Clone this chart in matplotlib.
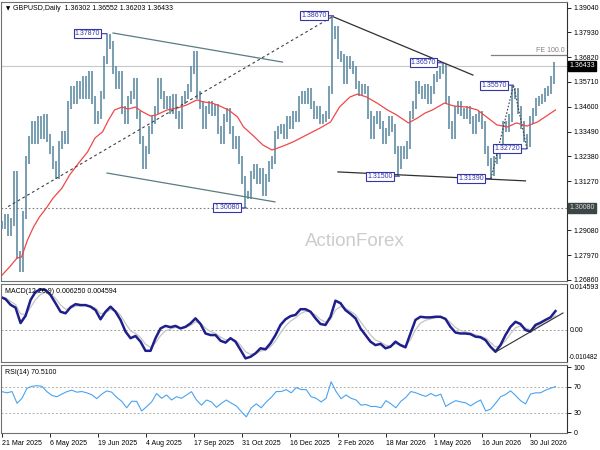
import numpy as np
import pandas as pd
import matplotlib
matplotlib.use('Agg')
import matplotlib.pyplot as plt
import matplotlib.transforms as mtrans

plt.rcParams['font.family'] = ['Liberation Sans', 'DejaVu Sans']
plt.rcParams['font.size'] = 5

# closes, one every 2 trading days from 21 Mar 2025
close = [
    1.2932, 1.2963, 1.2900, 1.2945, 1.3155, 1.2798, 1.2740, 1.2976, 1.3222, 1.3312,
    1.3379, 1.3312, 1.3401, 1.3334, 1.3410, 1.3321, 1.3267, 1.3200, 1.3155, 1.3289,
    1.3334, 1.3312, 1.3468, 1.3535, 1.3491, 1.3558, 1.3513, 1.3580, 1.3513, 1.3602,
    1.3491, 1.3401, 1.3424, 1.3513, 1.3669, 1.3768, 1.3736, 1.3625, 1.3558, 1.3602,
    1.3446, 1.3401, 1.3491, 1.3513, 1.3571, 1.3424, 1.3312, 1.3200, 1.3267, 1.3356,
    1.3401, 1.3446, 1.3571, 1.3513, 1.3468, 1.3491, 1.3446, 1.3499, 1.3424, 1.3379,
    1.3491, 1.3513, 1.3544, 1.3625, 1.3692, 1.3513, 1.3468, 1.3379, 1.3446, 1.3468,
    1.3437, 1.3455, 1.3356, 1.3312, 1.3410, 1.3437, 1.3356, 1.3289, 1.3312, 1.3222,
    1.3133, 1.3066, 1.3066, 1.3155, 1.3187, 1.3133, 1.3169, 1.3079, 1.3142, 1.3200,
    1.3222, 1.3334, 1.3356, 1.3365, 1.3334, 1.3401, 1.3379, 1.3424, 1.3410, 1.3491,
    1.3513, 1.3491, 1.3526, 1.3468, 1.3424, 1.3446, 1.3401, 1.3410, 1.3424, 1.3535,
    1.3781, 1.3803, 1.3692, 1.3678, 1.3580, 1.3669, 1.3647, 1.3625, 1.3558, 1.3526,
    1.3544, 1.3535, 1.3424, 1.3334, 1.3401, 1.3424, 1.3379, 1.3312, 1.3347, 1.3401,
    1.3365, 1.3267, 1.3200, 1.3267, 1.3245, 1.3289, 1.3424, 1.3468, 1.3558, 1.3535,
    1.3513, 1.3544, 1.3491, 1.3535, 1.3589, 1.3602, 1.3625, 1.3634, 1.3491, 1.3379,
    1.3334, 1.3446, 1.3468, 1.3437, 1.3424, 1.3446, 1.3401, 1.3356, 1.3410, 1.3424,
    1.3379, 1.3267, 1.3213, 1.3169, 1.3222, 1.3245, 1.3276, 1.3379, 1.3365, 1.3410,
    1.3513, 1.3526, 1.3446, 1.3379, 1.3321, 1.3298, 1.3401, 1.3437, 1.3482, 1.3491,
    1.3499, 1.3526, 1.3535, 1.3580, 1.3643,
]

ma_day = [0, 5, 10, 13, 17, 21, 25, 30, 34, 40, 45, 51, 57, 62, 67, 71, 75, 80, 84, 89,
          93, 99, 103, 110, 117, 123, 130, 134, 140, 145, 151, 157, 161, 167, 174, 180,
          184, 189, 194, 203, 212, 219, 225, 232, 237, 243, 250, 257, 263, 271, 277, 282,
          287, 295, 301, 310, 317, 323, 330, 337, 343, 350, 357, 363, 369]
ma_val = [1.2708, 1.2744, 1.2784, 1.2789, 1.2865, 1.2923, 1.2968, 1.3012, 1.3052, 1.3097,
          1.3155, 1.3208, 1.3258, 1.3321, 1.3348, 1.3401, 1.3446, 1.3459, 1.3450, 1.3459,
          1.3440, 1.3419, 1.3424, 1.3446, 1.3455, 1.3468, 1.3491, 1.3482, 1.3477, 1.3464,
          1.3446, 1.3415, 1.3370, 1.3334, 1.3289, 1.3267, 1.3276, 1.3289, 1.3303, 1.3334,
          1.3365, 1.3392, 1.3459, 1.3504, 1.3517, 1.3504, 1.3477, 1.3446, 1.3424, 1.3388,
          1.3410, 1.3432, 1.3446, 1.3477, 1.3464, 1.3459, 1.3446, 1.3415, 1.3379, 1.3370,
          1.3388, 1.3374, 1.3392, 1.3419, 1.3446]

macd = [
    0.0105, 0.0098, 0.0080, 0.0071, 0.0022, 0.0045, 0.0095, 0.0121, 0.0129, 0.0127,
    0.0111, 0.0085, 0.0058, 0.0053, 0.0072, 0.0082, 0.0079, 0.0079, 0.0074, 0.0063,
    0.0034, 0.0058, 0.0074, 0.0058, 0.0032, -0.0005, -0.0026, -0.0019, -0.0037, -0.0066,
    -0.0066, -0.0026, 0.0005, 0.0013, 0.0009, 0.0013, 0.0005, 0.0010, 0.0021, 0.0037,
    0.0019, -0.0011, -0.0016, -0.0016, -0.0034, -0.0040, -0.0026, -0.0037, -0.0063, -0.0090,
    -0.0085, -0.0074, -0.0058, -0.0061, -0.0042, -0.0016, 0.0016, 0.0034, 0.0044, 0.0048,
    0.0066, 0.0066, 0.0058, 0.0037, 0.0019, 0.0016, 0.0042, 0.0093, 0.0085, 0.0063,
    0.0051, 0.0037, 0.0005, -0.0016, -0.0037, -0.0048, -0.0044, -0.0058, -0.0053, -0.0037,
    -0.0048, -0.0055, -0.0011, 0.0032, 0.0042, 0.0040, 0.0040, 0.0042, 0.0042, 0.0035,
    0.0010, -0.0008, -0.0011, -0.0011, -0.0013, -0.0021, -0.0023, -0.0032, -0.0053, -0.0069,
    -0.0048, -0.0016, 0.0010, 0.0026, 0.0019, 0.0000, -0.0005, 0.0016, 0.0023, 0.0032,
    0.0040, 0.0060,
]

rsi = [
    62.8, 61, 63, 45, 52.6, 68, 71, 72, 71, 62.8,
    57, 55, 59, 62.8, 65, 62, 63, 61, 58, 52,
    59, 64, 62, 54, 48, 38, 48, 48, 33, 39.7,
    47, 60, 52.6, 57.7, 50, 55, 52.6, 57.7, 62.8, 50,
    42, 50, 47, 38.7, 44.9, 50, 45, 40.8, 32, 24,
    38, 44, 38, 47, 54, 63, 63, 66, 61, 69,
    66, 66, 55, 52.6, 47, 52.6, 78, 63, 52, 57.7,
    52.6, 50, 42, 43, 40, 40, 38, 49, 44, 38,
    48, 54, 63, 61, 58, 55.5, 60, 56, 59, 40,
    45, 49, 47, 45.5, 41, 46, 50, 33, 36, 45,
    55, 58.5, 64, 57, 49, 44, 59, 61, 61, 65,
    68, 70.5,
]

# labelled swing points
piv_day = [70, 163, 221, 265, 294, 326, 341, 350]
piv_val = [1.37870, 1.30080, 1.38670, 1.31500, 1.36570, 1.31390, 1.35570, 1.32720]

date_labels = ['21 Mar 2025', '6 May 2025', '19 Jun 2025', '4 Aug 2025', '17 Sep 2025',
               '31 Oct 2025', '16 Dec 2025', '2 Feb 2026', '18 Mar 2026', '1 May 2026',
               '16 Jun 2026', '30 Jul 2026']
price_ticks = [1.39040, 1.37930, 1.36820, 1.35710, 1.34600, 1.33490, 1.32380,
               1.31270, 1.29080, 1.27970, 1.26860]

last_price = 1.36433
level = 1.30080
fe_level = 1.36900

days = np.arange(len(close)) * 2
c = np.array(close)
prev = np.r_[c[0], c[:-1]]
pad = 0.0018
hi = np.maximum(c, prev) + pad
lo = np.minimum(c, prev) - pad
for d, v in zip(piv_day, piv_val):
    k = int(np.argmin(np.abs(days - d)))
    hi[k] = max(hi[k], v)
    lo[k] = min(lo[k], v)

macd_day = np.linspace(-1, 369, len(macd))
signal = pd.Series(macd).ewm(alpha=0.5, adjust=False).mean()
rsi_day = np.linspace(0, 369, len(rsi))

W, H = 600, 450
fig = plt.figure(figsize=(6, 4.5), dpi=100)
fig.patch.set_facecolor('white')


def panel(top, bot):
    return fig.add_axes([1 / W, 1 - bot / H, 566 / W, (bot - top) / H])


axp = panel(2, 281)
axm = panel(284, 362)
axr = panel(365, 433)

xlim = (-0.7, 376.7)
for ax in (axp, axm, axr):
    ax.set_xlim(xlim)
    for s in ax.spines.values():
        s.set_color('#707070')
        s.set_linewidth(0.8)
    ax.spines['right'].set_color('#303030')
    ax.tick_params(axis='x', bottom=False, labelbottom=False)
    ax.yaxis.tick_right()
    ax.tick_params(axis='y', direction='out', length=3, width=0.6, pad=2,
                   labelsize=5, colors='black')

# ---- price panel
axp.set_ylim(1.26814, 1.39286)
axp.set_yticks(price_ticks)
axp.set_yticklabels(['%.5f' % t for t in price_ticks])

axp.axhline(last_price, color='#c8c8c8', lw=0.8, zorder=1)
axp.axhline(level, color='#808080', lw=0.8, ls=(0, (1.5, 2)), zorder=1)
axp.text(235, 1.2860, 'ActionForex', fontsize=13.5, color='#cccccc',
         ha='center', va='center', zorder=0)

axp.vlines(days, lo, hi, color='#5a88a0', lw=1.15, zorder=3)
axp.plot(ma_day, ma_val, color='#f04848', lw=0.9, zorder=4)

# trend lines
axp.plot([74, 187], [1.3790, 1.3660], color='#5a7c82', lw=0.9, zorder=5)
axp.plot([70, 182], [1.3164, 1.3035], color='#5a7c82', lw=0.9, zorder=5)
axp.plot([4, 220], [1.3014, 1.3862], color='#404040', lw=0.8, ls=(0, (2.5, 2.5)), zorder=5)
axp.plot([221, 314], [1.3862, 1.3602], color='#303030', lw=0.9, zorder=5)
axp.plot([224, 349], [1.3169, 1.3129], color='#303030', lw=0.9, zorder=5)
axp.plot([326, 341, 350], [1.3139, 1.3557, 1.3272], color='#404040', lw=0.8,
         ls=(0, (1.5, 1.5)), zorder=5)
axp.plot([326, xlim[1]], [fe_level, fe_level], color='#808080', lw=0.9, zorder=5)
axp.text(375, fe_level + 0.0006, 'FE 100.0', color='#808080', fontsize=5,
         ha='right', va='bottom', zorder=6)

for d, v in zip(piv_day, piv_val):
    axp.annotate('%.5f' % v, xy=(d, v), xytext=(-7, 0), textcoords='offset pixels',
                 ha='right', va='center', fontsize=5, color='#3535a8', zorder=7,
                 bbox=dict(boxstyle='square,pad=0.15', fc='white', ec='#3535a8', lw=0.8),
                 arrowprops=dict(arrowstyle='-', color='#3535a8', lw=0.8,
                                 shrinkA=0, shrinkB=0))

tr = mtrans.blended_transform_factory(axp.transAxes, axp.transData)
axp.text(1.004, last_price, '%.5f' % last_price, transform=tr, ha='left', va='center',
         fontsize=5, color='white', clip_on=False,
         bbox=dict(boxstyle='square,pad=0.2', fc='black', ec='black'))
axp.text(1.004, level, '%.5f' % level, transform=tr, ha='left', va='center',
         fontsize=5, color='#d8d8d8', clip_on=False,
         bbox=dict(boxstyle='square,pad=0.2', fc='#3c4646', ec='#3c4646'))

axp.text(0.008, 0.985, '\u25bc', transform=axp.transAxes, fontsize=4,
         ha='left', va='top', family='DejaVu Sans')
axp.text(0.022, 0.988, 'GBPUSD,Daily  1.36302 1.36552 1.36203 1.36433',
         transform=axp.transAxes, fontsize=5, ha='left', va='top')

# ---- MACD panel
axm.set_ylim(-0.01015, 0.014593)
axm.set_yticks([])
axm.axhline(0, color='#a0a0a0', lw=0.7, ls=(0, (2, 2)))
axm.plot(macd_day, signal, color='#c4c4c4', lw=0.9)
axm.plot(macd_day, macd, color='#1e1e8c', lw=1.8)
axm.plot([329, 374], [-0.0070, 0.0054], color='#303030', lw=0.8)
axm.text(0.007, 0.95, 'MACD(12,26,9) 0.006250 0.004594', transform=axm.transAxes,
         fontsize=5, ha='left', va='top')
trm = mtrans.blended_transform_factory(axm.transAxes, axm.transData)
axm.text(1.005, 0.014593, '0.014593', transform=trm, ha='left', va='top', fontsize=5)
axm.text(1.005, 0.0, '0.00', transform=trm, ha='left', va='center', fontsize=5)
axm.text(1.003, -0.0099, '-0.010482', transform=trm, ha='left', va='bottom', fontsize=4.7)

# ---- RSI panel
axr.set_ylim(-0.8, 103.8)
axr.set_yticks([0, 30, 70, 100])
axr.set_yticklabels(['0', '30', '70', '100'])
axr.axhline(30, color='#b0b0b0', lw=0.7, ls=(0, (2, 2)))
axr.axhline(70, color='#b0b0b0', lw=0.7, ls=(0, (2, 2)))
axr.plot(rsi_day, rsi, color='#4aa3f0', lw=0.8)
axr.text(0.007, 0.94, 'RSI(14) 70.5100', transform=axr.transAxes,
         fontsize=5, ha='left', va='top')

axr.tick_params(axis='x', bottom=True, labelbottom=True, direction='out',
                length=3, width=0.6, pad=2, labelsize=5)
axr.set_xticks(np.arange(len(date_labels)) * 32)
axr.set_xticklabels(date_labels, ha='left')

fig.savefig('out.png', dpi=100)
